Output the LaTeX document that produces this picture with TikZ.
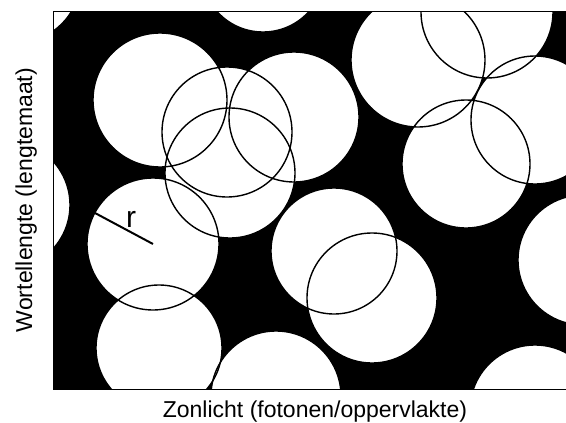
\documentclass[tikz,border=0pt]{standalone}
\usepackage{fontspec}
\setmainfont{Liberation Sans}

% plant root zones: centre x / centre y / radius (in px of the figure)
\newcommand{\rootzones}{18/-20/62, 263/-30/62, 160/100/67, 227/132/65,
	294/117/65, 230/173/65, 5/205/65, 153/244/66, 159/348/63, 276/396/65,
	334/251/63, 372/298/65, 418/60/67, 487/12/66, 535/120/64, 466/164/64,
	583/260/65, 535/410/65}

\begin{document}
\begin{tikzpicture}[x=1pt, y=-1pt, every node/.style={font=\fontsize{23}{27}\selectfont, inner sep=0pt}]
	\useasboundingbox (0,0) rectangle (566,423);
	\begin{scope}
		\clip (53,11) rectangle (566,389);
		\fill[black] (53,11) rectangle (566,389);
		\foreach \cx/\cy/\cr in \rootzones
			\fill[white] (\cx,\cy) circle[radius=\cr];
		\foreach \cx/\cy/\cr in \rootzones
			\draw[line width=1.4pt] (\cx,\cy) circle[radius=\cr];
	\end{scope}
	\draw[line width=1pt] (566,11) -- (53,11) -- (53,389) -- (566,389);
	% radius of one zone
	\coordinate (rc) at (153,244);
	\coordinate (re) at (95,213);
	\draw[line width=2pt] (rc) -- (re);
	\node[font=\fontsize{30}{34}\selectfont, anchor=base] (rlab) at (131,227) {r};
	\node[rotate=90, anchor=base] (ylab) at (32,200) {Wortellengte (lengtemaat)};
	\node[anchor=base] (xlab) at (315,417.5) {Zonlicht (fotonen/oppervlakte)};
\end{tikzpicture}
\end{document}
